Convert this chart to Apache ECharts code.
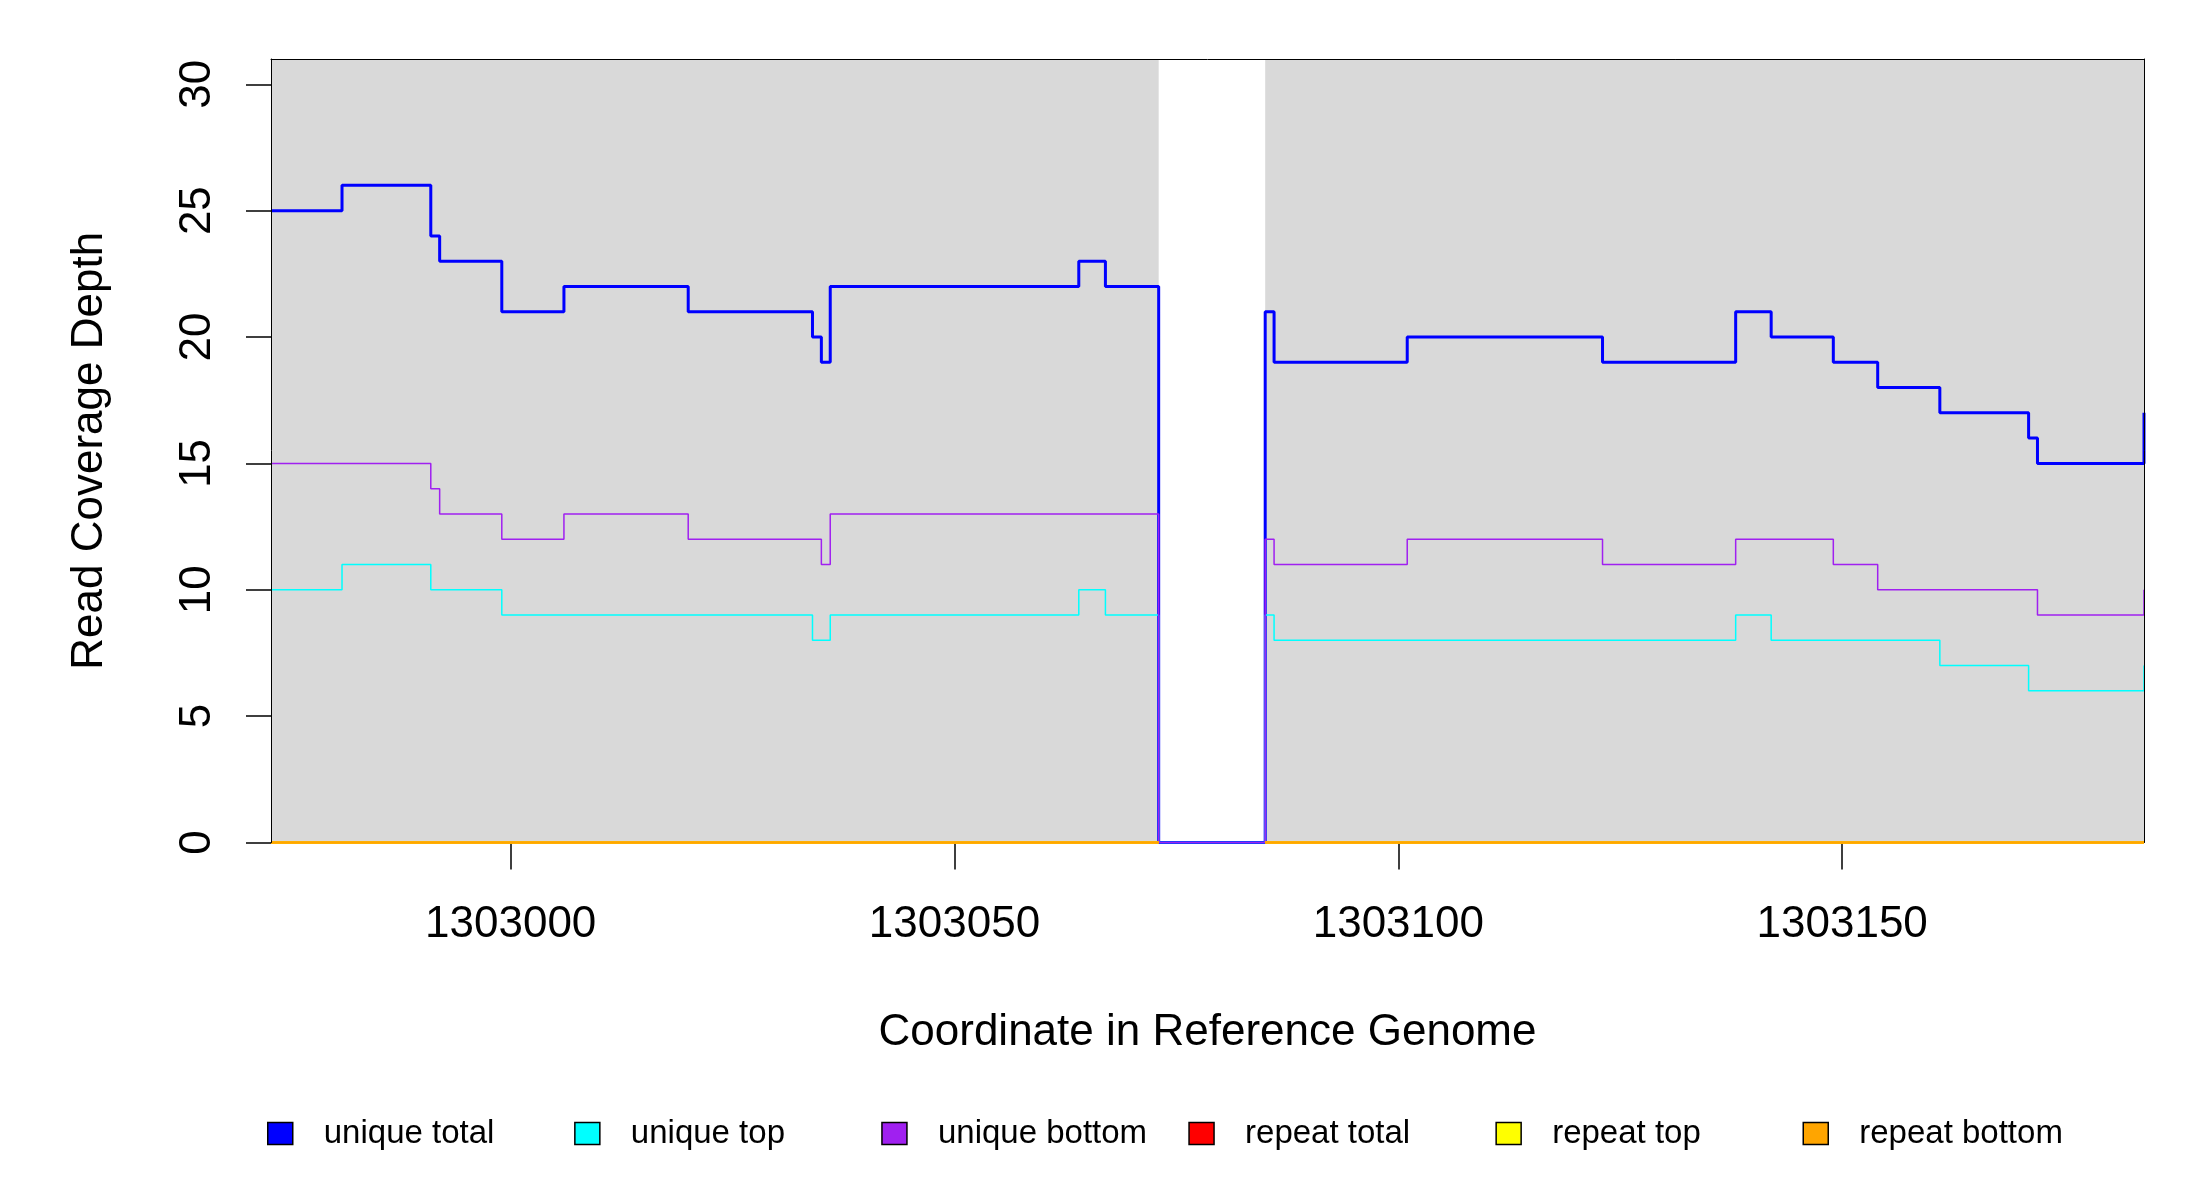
<!DOCTYPE html>
<html>
<head>
<meta charset="utf-8">
<title>Read Coverage Depth</title>
<script src="https://cdn.jsdelivr.net/npm/echarts@6/dist/echarts.min.js"></script>
<style>
html, body { margin: 0; padding: 0; background: #fff; }
#chart { width: 2200px; height: 1200px; }
</style>
</head>
<body>
<div id="chart"></div>
<script>
// coordinates where coverage changes; each value holds until the next coordinate
var positions = [1302973, 1302981, 1302991, 1302992, 1302999, 1303006, 1303020,
  1303034, 1303035, 1303036, 1303064, 1303067, 1303073, 1303085, 1303086,
  1303101, 1303123, 1303138, 1303142, 1303149, 1303154, 1303161, 1303171,
  1303172, 1303184];
var uniqueTotal  = [25, 26, 24, 23, 21, 22, 21, 20, 19, 22, 23, 22, 0, 21, 19, 20, 19, 21, 20, 19, 18, 17, 16, 15, 17];
var uniqueTop    = [10, 11, 10, 10, 9, 9, 9, 8, 8, 9, 10, 9, 0, 9, 8, 8, 8, 9, 8, 8, 8, 7, 6, 6, 7];
var uniqueBottom = [15, 15, 14, 13, 12, 13, 12, 12, 11, 13, 13, 13, 0, 12, 11, 12, 11, 12, 12, 11, 10, 10, 10, 9, 10];
var repeatTotal  = [0, 0, 0, 0, 0, 0, 0, 0, 0, 0, 0, 0, null, 0, 0, 0, 0, 0, 0, 0, 0, 0, 0, 0, 0];
var repeatTop    = [0, 0, 0, 0, 0, 0, 0, 0, 0, 0, 0, 0, null, 0, 0, 0, 0, 0, 0, 0, 0, 0, 0, 0, 0];
var repeatBottom = [0, 0, 0, 0, 0, 0, 0, 0, 0, 0, 0, 0, null, 0, 0, 0, 0, 0, 0, 0, 0, 0, 0, 0, 0];

// region without reference sequence (white band)
var gapRange = [1303073, 1303085];
var xRange = [1302973, 1303184];
var yRange = [0, 31];
var xTicks = [1303000, 1303050, 1303100, 1303150];
var yTicks = [0, 5, 10, 15, 20, 25, 30];

var seriesNames = ['unique total', 'unique top', 'unique bottom', 'repeat total', 'repeat top', 'repeat bottom'];
var seriesValues = [uniqueTotal, uniqueTop, uniqueBottom, repeatTotal, repeatTop, repeatBottom];
var seriesColors = ['#0000ff', '#00ffff', '#a020f0', '#ff0000', '#ffff00', '#ffa500'];
var lineWidths = [3, 1.5, 1.5, 2.5, 2.5, 2.5];

var FONT = '"Liberation Sans", Arial, Helvetica, sans-serif';

function steps(values) {
    var out = [];
    for (var i = 0; i < positions.length; i++) {
        if (values[i] === null) {
            // close the previous run before breaking the line
            if (i > 0 && values[i - 1] !== null) out.push([positions[i], values[i - 1]]);
            out.push([positions[i], null]);
        } else {
            out.push([positions[i], values[i]]);
        }
    }
    return out;
}

var chart = echarts.init(document.getElementById('chart'));

var series = [{
    type: 'line',
    data: [],
    z: 1,
    silent: true,
    markArea: {
        silent: true,
        itemStyle: { color: '#ffffff' },
        data: [[{ xAxis: gapRange[0] }, { xAxis: gapRange[1] }]]
    }
}];
seriesNames.forEach(function (name, i) {
    series.push({
        name: name,
        type: 'line',
        step: 'end',
        symbol: 'none',
        showSymbol: false,
        clip: false,
        z: 3,
        data: steps(seriesValues[i]),
        itemStyle: { color: seriesColors[i] },
        lineStyle: { color: seriesColors[i], width: lineWidths[i] }
    });
});

var legends = seriesNames.map(function (name, i) {
    return {
        data: [name],
        left: 267 + i * 307.1,
        top: 1117,
        padding: 0,
        icon: 'rect',
        itemWidth: 25,
        itemHeight: 22,
        selectedMode: false,
        itemStyle: { borderColor: '#000', borderWidth: 1.5 },
        textStyle: { color: '#000', fontSize: 33, fontFamily: FONT, padding: [0, 0, 0, 26] }
    };
});

var option = {
    animation: false,
    backgroundColor: '#ffffff',
    grid: {
        left: 271,
        right: 56,
        top: 59,
        bottom: 357.5,
        show: true,
        backgroundColor: '#d9d9d9',
        borderWidth: 0
    },
    legend: legends,
    xAxis: [{
        type: 'value',
        position: 'bottom',
        min: xRange[0],
        max: xRange[1],
        z: 0,
        name: 'Coordinate in Reference Genome',
        nameLocation: 'middle',
        nameGap: 168,
        nameTextStyle: { color: '#000', fontSize: 44, fontFamily: FONT },
        axisLine: { show: true, onZero: false, lineStyle: { color: '#666', width: 1 } },
        axisTick: { show: true, length: 27, customValues: xTicks, lineStyle: { color: '#000', width: 1.5 } },
        axisLabel: {
            customValues: xTicks,
            margin: 60,
            color: '#000',
            fontSize: 44,
            fontFamily: FONT,
            formatter: function (v) { return String(v); }
        },
        splitLine: { show: false }
    }, {
        type: 'value',
        position: 'top',
        min: xRange[0],
        max: xRange[1],
        z: 10,
        axisLine: { show: true, onZero: false, lineStyle: { color: '#000', width: 1 } },
        axisTick: { show: false },
        axisLabel: { show: false },
        splitLine: { show: false }
    }],
    yAxis: [{
        type: 'value',
        position: 'left',
        min: yRange[0],
        max: yRange[1],
        z: 10,
        name: 'Read Coverage Depth',
        nameLocation: 'middle',
        nameGap: 159,
        nameTextStyle: { color: '#000', fontSize: 44, fontFamily: FONT },
        axisLine: { show: true, onZero: false, lineStyle: { color: '#000', width: 1 } },
        axisTick: { show: true, length: 25, customValues: yTicks, lineStyle: { color: '#000', width: 1.5 } },
        axisLabel: {
            customValues: yTicks,
            rotate: 90,
            margin: 51,
            color: '#000',
            fontSize: 44,
            fontFamily: FONT
        },
        splitLine: { show: false }
    }, {
        type: 'value',
        position: 'right',
        min: yRange[0],
        max: yRange[1],
        z: 10,
        axisLine: { show: true, onZero: false, lineStyle: { color: '#000', width: 1 } },
        axisTick: { show: false },
        axisLabel: { show: false },
        splitLine: { show: false }
    }],
    series: series
};

chart.setOption(option);

window.addEventListener('resize', function () {
    chart.resize();
});
</script>
</body>
</html>
